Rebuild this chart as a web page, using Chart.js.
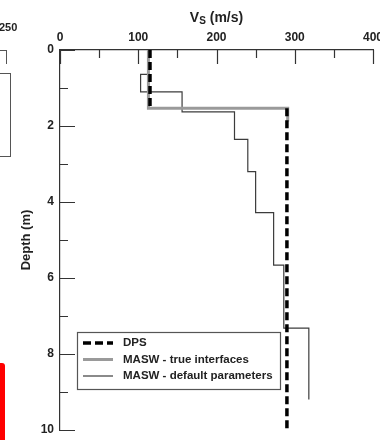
<!DOCTYPE html>
<html>
<head>
<meta charset="utf-8">
<script src="https://cdn.jsdelivr.net/npm/chart.js@4.4.1/dist/chart.umd.min.js"></script>
<style>
  html, body { margin: 0; padding: 0; background: #fff; }
  #wrap { position: relative; width: 380px; height: 440px; overflow: hidden; }
  #profile { position: absolute; left: 0; top: 0; }
  /* bits of the neighbouring panel that show at the left edge */
  .side { position: absolute; border: 0 solid #555; }
  #sideTick { left: -2px; top: 50px; width: 8px; height: 13px; border-top-width: 1.2px; border-right-width: 1.2px; }
  #sideBox { left: -4px; top: 73px; width: 13px; height: 82px; border-width: 1.2px; }
  #sideLabel { position: absolute; left: -1px; top: 21px; font: bold 11px 'Liberation Sans', Arial, sans-serif; color: #222; }
  #redTab { position: absolute; left: -6px; top: 363px; width: 11px; height: 90px; background: #f00; border-radius: 3px; }
</style>
</head>
<body>
<div id="wrap">
  <canvas id="profile" width="380" height="440"></canvas>
  <div id="sideTick" class="side"></div>
  <div id="sideBox" class="side"></div>
  <div id="sideLabel">250</div>
  <div id="redTab"></div>
</div>
<script>
const FONT = "'Liberation Sans', Arial, sans-serif";

// layer velocities (m/s) and layer boundaries (m)
const dpsVs = [115, 290];
const dpsDepth = [0, 1.53, 10];
const trueVs = [113, 291];
const trueDepth = [0, 1.53, 1.88];
const defaultVs = [113, 103, 156, 223, 240, 250, 273, 286, 318];
const defaultDepth = [0, 0.64, 1.1, 1.63, 2.35, 3.2, 4.28, 5.66, 7.32, 9.2];

const seriesLabels = ['DPS', 'MASW - true interfaces', 'MASW - default parameters'];

// axis ticks
const vsMax = 400, vsMajor = 100, vsMinor = 50;
const depthMax = 10, depthMajor = 2, depthMinor = 1;

// turn a layered model into the corner points of its step profile;
// with split=true each layer is its own vertical piece
function profilePoints(vs, depth, split) {
  const pts = [];
  vs.forEach((v, i) => {
    if (split && i > 0) pts.push({ x: v, y: null });
    pts.push({ x: v, y: depth[i] });
    pts.push({ x: v, y: depth[i + 1] });
  });
  return pts;
}

// ticks point into the plot
const inwardTicks = {
  id: 'inwardTicks',
  afterDraw(chart) {
    const { ctx, chartArea, scales: { x, y } } = chart;
    ctx.save();
    ctx.strokeStyle = '#333';
    ctx.lineWidth = 1.2;
    ctx.beginPath();
    for (let v = 0; v <= vsMax; v += vsMinor) {
      const px = Math.round(x.getPixelForValue(v)) + 0.5;
      const len = v % vsMajor === 0 ? 14 : 8;
      ctx.moveTo(px, chartArea.top);
      ctx.lineTo(px, chartArea.top + len);
    }
    for (let d = 0; d <= depthMax; d += depthMinor) {
      const py = Math.round(y.getPixelForValue(d)) + 0.5;
      const len = d % depthMajor === 0 ? 15 : 8;
      ctx.moveTo(chartArea.left, py);
      ctx.lineTo(chartArea.left + len, py);
    }
    ctx.stroke();
    ctx.restore();
  }
};

// "Vs (m/s)" with subscript s
const vsTitle = {
  id: 'vsTitle',
  afterDraw(chart) {
    const { ctx, chartArea } = chart;
    const big = `bold 14px ${FONT}`;
    const small = `bold 10px ${FONT}`;
    ctx.save();
    ctx.fillStyle = '#222';
    ctx.textBaseline = 'alphabetic';
    ctx.font = big;
    const wV = ctx.measureText('V').width;
    const wRest = ctx.measureText(' (m/s)').width;
    ctx.font = small;
    const wS = ctx.measureText('S').width;
    let xPos = (chartArea.left + chartArea.right) / 2 - (wV + wS + wRest) / 2;
    const base = 22;
    ctx.font = big;
    ctx.fillText('V', xPos, base);
    xPos += wV;
    ctx.font = small;
    ctx.fillText('S', xPos, base + 2);
    xPos += wS;
    ctx.font = big;
    ctx.fillText(' (m/s)', xPos, base);
    ctx.restore();
  }
};

// boxed legend inside the plot
const boxLegend = {
  id: 'boxLegend',
  afterDraw(chart) {
    const { ctx, chartArea } = chart;
    const left = chartArea.left + 17, top = 332, w = 203, h = 57;
    ctx.save();
    ctx.fillStyle = '#fff';
    ctx.fillRect(left, top, w, h);
    ctx.strokeStyle = '#555';
    ctx.lineWidth = 1.2;
    ctx.strokeRect(left + 0.5, top + 0.5, w, h);
    chart.data.datasets.forEach((ds, i) => {
      const yy = top + 11 + i * 16.5;
      ctx.beginPath();
      ctx.setLineDash(ds.borderDash || []);
      ctx.lineWidth = ds.borderWidth;
      ctx.strokeStyle = ds.borderColor;
      ctx.moveTo(left + 6, yy);
      ctx.lineTo(left + 36, yy);
      ctx.stroke();
      ctx.setLineDash([]);
      ctx.fillStyle = '#222';
      ctx.font = `bold 11.5px ${FONT}`;
      ctx.textBaseline = 'middle';
      ctx.fillText(ds.label, left + 46, yy);
    });
    ctx.restore();
  }
};

new Chart(document.getElementById('profile'), {
  type: 'scatter',
  data: {
    datasets: [
      {
        label: seriesLabels[0],
        data: profilePoints(dpsVs, dpsDepth, true),
        borderColor: '#000',
        borderWidth: 3.5,
        borderDash: [8, 4],
        showLine: true,
        spanGaps: false,
        pointRadius: 0
      },
      {
        label: seriesLabels[1],
        data: profilePoints(trueVs, trueDepth),
        borderColor: '#9a9a9a',
        borderWidth: 3,
        showLine: true,
        pointRadius: 0
      },
      {
        label: seriesLabels[2],
        data: profilePoints(defaultVs, defaultDepth),
        borderColor: '#3c3c3c',
        borderWidth: 1.2,
        showLine: true,
        pointRadius: 0
      }
    ]
  },
  options: {
    responsive: false,
    animation: false,
    devicePixelRatio: 1,
    layout: { padding: { left: 0, top: 0, right: 7, bottom: 10 } },
    plugins: {
      legend: { display: false },
      tooltip: { enabled: false }
    },
    scales: {
      x: {
        type: 'linear',
        position: 'top',
        min: 0,
        max: vsMax,
        ticks: { stepSize: vsMajor, padding: 5, color: '#222', font: { family: FONT, size: 12, weight: 'bold' } },
        grid: { drawOnChartArea: false, drawTicks: false },
        border: { color: '#333', width: 1.2 },
        afterFit(s) { s.height = 50; s.paddingLeft = 0; s.paddingRight = 0; }
      },
      y: {
        type: 'linear',
        reverse: true,
        min: 0,
        max: depthMax,
        ticks: { stepSize: depthMajor, padding: 6, color: '#222', font: { family: FONT, size: 12, weight: 'bold' } },
        grid: { drawOnChartArea: false, drawTicks: false },
        border: { color: '#333', width: 1.2 },
        title: {
          display: true,
          text: 'Depth (m)',
          color: '#222',
          font: { family: FONT, size: 13, weight: 'bold' },
          padding: { top: 19, bottom: 0 }
        },
        afterFit(s) { s.width = 60; s.paddingTop = 0; s.paddingBottom = 0; }
      }
    }
  },
  plugins: [inwardTicks, vsTitle, boxLegend]
});
</script>
</body>
</html>
